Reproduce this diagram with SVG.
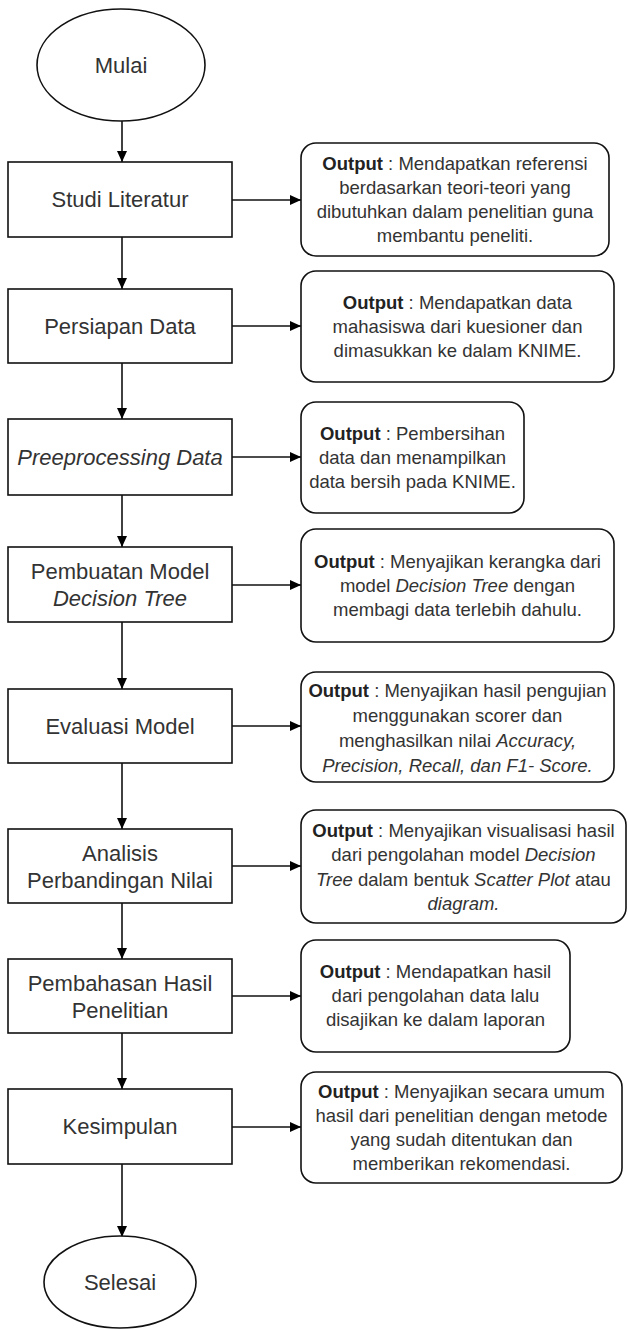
<svg xmlns="http://www.w3.org/2000/svg" width="628" height="1330" viewBox="0 0 628 1330">
<defs>
<marker id="arr" markerWidth="11" markerHeight="10" refX="11" refY="5" orient="auto" markerUnits="userSpaceOnUse">
<path d="M0,0 L11,5 L0,10 z" fill="#000"/>
</marker>
<style>
.n{fill:#fff;stroke:#111;stroke-width:1.6}
.o{fill:#fff;stroke:#111;stroke-width:1.6}
.m{font-family:"Liberation Sans",Arial,sans-serif;font-size:22px;fill:#333;text-anchor:middle}
.t{font-family:"Liberation Sans",Arial,sans-serif;font-size:18.5px;fill:#333;text-anchor:middle}
.b{font-weight:bold;fill:#222}
.i{font-style:italic}
.c{fill:none;stroke:#111;stroke-width:1.6;marker-end:url(#arr)}
</style>
</defs>
<rect width="628" height="1330" fill="#fff"/>
<g id="connectors">
<line class="c" x1="122" y1="121" x2="122" y2="162"/>
<line class="c" x1="122" y1="237" x2="122" y2="289"/>
<line class="c" x1="122" y1="363" x2="122" y2="419"/>
<line class="c" x1="122" y1="495" x2="122" y2="547"/>
<line class="c" x1="122" y1="622" x2="122" y2="689"/>
<line class="c" x1="122" y1="763" x2="122" y2="829"/>
<line class="c" x1="122" y1="903" x2="122" y2="959"/>
<line class="c" x1="122" y1="1033" x2="122" y2="1089"/>
<line class="c" x1="122" y1="1164" x2="122" y2="1237"/>
<line class="c" x1="232" y1="200" x2="301" y2="200"/>
<line class="c" x1="232" y1="326" x2="301" y2="326"/>
<line class="c" x1="232" y1="457" x2="301" y2="457"/>
<line class="c" x1="232" y1="585" x2="301" y2="585"/>
<line class="c" x1="232" y1="726" x2="301" y2="726"/>
<line class="c" x1="232" y1="866" x2="301" y2="866"/>
<line class="c" x1="232" y1="996" x2="301" y2="996"/>
<line class="c" x1="232" y1="1127" x2="301" y2="1127"/>
</g>
<g id="mulai">
<ellipse class="n" cx="121" cy="65" rx="84" ry="56"/>
<text class="m" x="121" y="73">Mulai</text>
</g>
<g id="studi">
<rect class="n" x="8" y="162" width="224" height="75"/>
<text class="m" x="120" y="207">Studi Literatur</text>
</g>
<g id="out1">
<rect class="o" x="301" y="143" width="308" height="113" rx="15"/>
<text class="t" x="455" y="170"><tspan class="b">Output</tspan> : Mendapatkan referensi</text>
<text class="t" x="455" y="194">berdasarkan teori-teori yang</text>
<text class="t" x="455" y="218">dibutuhkan dalam penelitian guna</text>
<text class="t" x="455" y="242">membantu peneliti.</text>
</g>
<g id="persiapan">
<rect class="n" x="8" y="289" width="224" height="74"/>
<text class="m" x="120" y="334">Persiapan Data</text>
</g>
<g id="out2">
<rect class="o" x="301" y="271" width="313" height="111" rx="15"/>
<text class="t" x="457.5" y="309"><tspan class="b">Output</tspan> : Mendapatkan data</text>
<text class="t" x="457.5" y="333">mahasiswa dari kuesioner dan</text>
<text class="t" x="457.5" y="357">dimasukkan ke dalam KNIME.</text>
</g>
<g id="preprocessing">
<rect class="n" x="8" y="419" width="224" height="76"/>
<text class="m i" x="120" y="465">Preeprocessing Data</text>
</g>
<g id="out3">
<rect class="o" x="301" y="402" width="223" height="111" rx="15"/>
<text class="t" x="412.5" y="440"><tspan class="b">Output</tspan> : Pembersihan</text>
<text class="t" x="412.5" y="464">data dan menampilkan</text>
<text class="t" x="412.5" y="488">data bersih pada KNIME.</text>
</g>
<g id="pembuatan">
<rect class="n" x="8" y="547" width="224" height="75"/>
<text class="m" x="120" y="579">Pembuatan Model</text>
<text class="m i" x="120" y="606">Decision Tree</text>
</g>
<g id="out4">
<rect class="o" x="301" y="529" width="313" height="113" rx="15"/>
<text class="t" x="457.5" y="568"><tspan class="b">Output</tspan> : Menyajikan kerangka dari</text>
<text class="t" x="457.5" y="592">model <tspan class="i">Decision Tree</tspan> dengan</text>
<text class="t" x="457.5" y="616">membagi data terlebih dahulu.</text>
</g>
<g id="evaluasi">
<rect class="n" x="8" y="689" width="224" height="74"/>
<text class="m" x="120" y="734">Evaluasi Model</text>
</g>
<g id="out5">
<rect class="o" x="301" y="672" width="313" height="110" rx="15"/>
<text class="t" x="457.5" y="697"><tspan class="b">Output</tspan> : Menyajikan hasil pengujian</text>
<text class="t" x="457.5" y="722">menggunakan scorer dan</text>
<text class="t" x="457.5" y="747">menghasilkan nilai <tspan class="i">Accuracy,</tspan></text>
<text class="t i" x="457.5" y="772">Precision, Recall, dan F1- Score.</text>
</g>
<g id="analisis">
<rect class="n" x="8" y="829" width="224" height="74"/>
<text class="m" x="120" y="861">Analisis</text>
<text class="m" x="120" y="888">Perbandingan Nilai</text>
</g>
<g id="out6">
<rect class="o" x="301" y="810" width="325" height="113" rx="15"/>
<text class="t" x="463.5" y="837"><tspan class="b">Output</tspan> : Menyajikan visualisasi hasil</text>
<text class="t" x="463.5" y="861">dari pengolahan model <tspan class="i">Decision</tspan></text>
<text class="t" x="463.5" y="886"><tspan class="i">Tree</tspan> dalam bentuk <tspan class="i">Scatter Plot</tspan> atau</text>
<text class="t i" x="463.5" y="910">diagram.</text>
</g>
<g id="pembahasan">
<rect class="n" x="8" y="959" width="224" height="74"/>
<text class="m" x="120" y="991">Pembahasan Hasil</text>
<text class="m" x="120" y="1018">Penelitian</text>
</g>
<g id="out7">
<rect class="o" x="301" y="940" width="269" height="112" rx="15"/>
<text class="t" x="435.5" y="978"><tspan class="b">Output</tspan> : Mendapatkan hasil</text>
<text class="t" x="435.5" y="1002">dari pengolahan data lalu</text>
<text class="t" x="435.5" y="1026">disajikan ke dalam laporan</text>
</g>
<g id="kesimpulan">
<rect class="n" x="8" y="1089" width="224" height="75"/>
<text class="m" x="120" y="1134">Kesimpulan</text>
</g>
<g id="out8">
<rect class="o" x="301" y="1072" width="321" height="111" rx="15"/>
<text class="t" x="461.5" y="1098"><tspan class="b">Output</tspan> : Menyajikan secara umum</text>
<text class="t" x="461.5" y="1122">hasil dari penelitian dengan metode</text>
<text class="t" x="461.5" y="1146">yang sudah ditentukan dan</text>
<text class="t" x="461.5" y="1170">memberikan rekomendasi.</text>
</g>
<g id="selesai">
<ellipse class="n" cx="120" cy="1282" rx="76" ry="46"/>
<text class="m" x="120" y="1290">Selesai</text>
</g>
</svg>
